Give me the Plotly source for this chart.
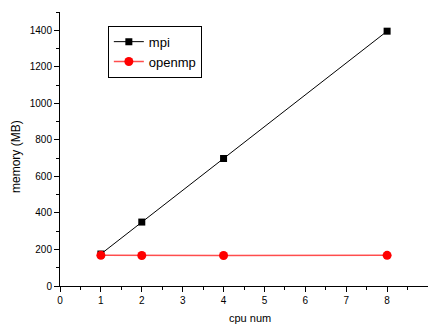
import plotly.graph_objects as go

cpu = [1, 2, 4, 8]
mpi = [175, 350, 698, 1395]
openmp = [168, 167, 167, 168]

fig = go.Figure()
fig.add_trace(go.Scatter(x=cpu, y=mpi, name="mpi", mode="lines+markers",
                         line=dict(color="black", width=1),
                         marker=dict(symbol="square", size=7, color="black")))
fig.add_trace(go.Scatter(x=cpu, y=openmp, name="openmp", mode="lines+markers",
                         line=dict(color="#ff4d4d", width=1.6),
                         marker=dict(symbol="circle", size=9, color="red")))

axis_common = dict(showgrid=False, zeroline=False, showline=True, linecolor="black",
                   linewidth=1, ticks="outside", ticklen=5, tickcolor="black",
                   tickfont=dict(size=10, color="black"))
fig.update_layout(
    width=428, height=325,
    margin=dict(l=60, r=0, t=12, b=39),
    paper_bgcolor="white", plot_bgcolor="white",
    font=dict(family="Liberation Sans, Arial, sans-serif", size=11, color="black"),
    showlegend=True,
    legend=dict(x=0.13, y=0.95, xanchor="left", yanchor="top",
                bordercolor="black", borderwidth=1, bgcolor="white",
                font=dict(size=13), tracegroupgap=0, itemwidth=30,
                itemsizing="trace"),
    xaxis=dict(range=[0, 9], dtick=1, tick0=0,
               minor=dict(ticks="outside", ticklen=3, dtick=0.5, tickcolor="black"),
               **axis_common),
    yaxis=dict(range=[0, 1500], dtick=200, tick0=0,
               minor=dict(ticks="outside", ticklen=3, dtick=100, tickcolor="black"),
               **axis_common),
    annotations=[
        dict(text="cpu num", xref="paper", yref="paper", x=(250 - 60) / 368,
             y=-(318 - 286) / 274, xanchor="center", yanchor="middle",
             showarrow=False, font=dict(size=11)),
        dict(text="memory (MB)", xref="paper", yref="paper", x=-(60 - 16) / 368,
             y=(286 - 157) / 274, xanchor="center", yanchor="middle",
             textangle=-90, showarrow=False, font=dict(size=12)),
    ],
)
fig.write_html("out.html")
